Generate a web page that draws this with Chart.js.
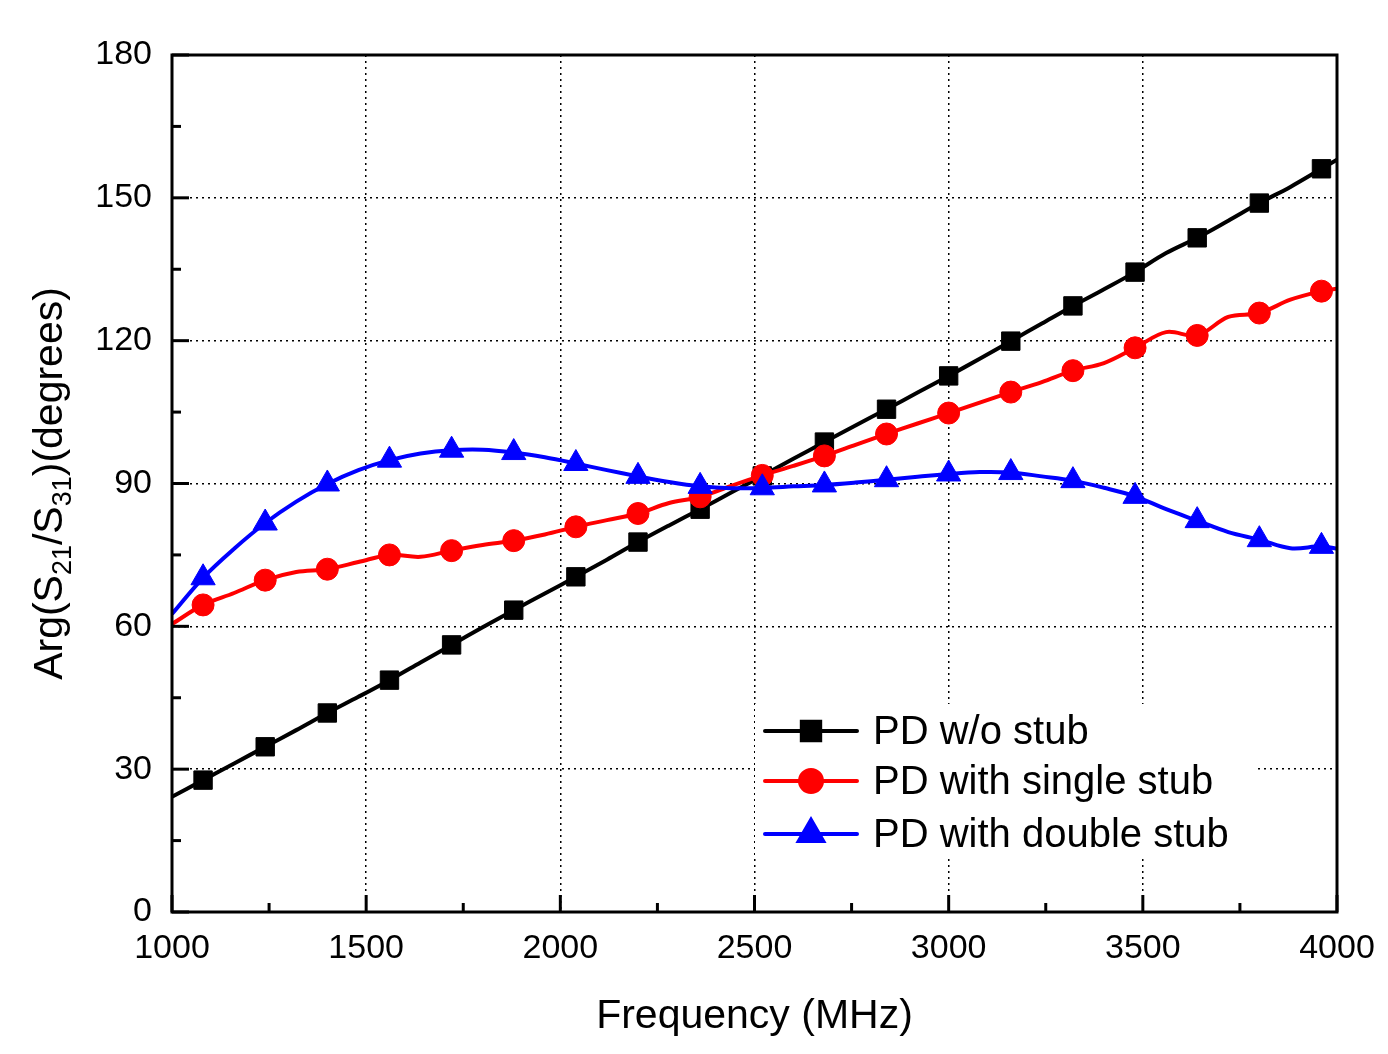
<!DOCTYPE html>
<html lang="en">
<head>
  <meta charset="UTF-8" />
  <title>Arg(S21/S31) vs Frequency</title>
  <script src="https://cdn.jsdelivr.net/npm/chart.js@4.4.1/dist/chart.umd.min.js"></script>
  <style>
    html, body { margin: 0; padding: 0; background: #fff; }
    #wrap { width: 1388px; height: 1054px; }
  </style>
</head>
<body>
  <div id="wrap"><canvas id="grafico" width="1388" height="1054"></canvas></div>

  <script>
    // frequency points (MHz), shared by the three curves
    const freq = [1000, 1080, 1160, 1240, 1320, 1400, 1480, 1560, 1640, 1720, 1800, 1880, 1960,
      2040, 2120, 2200, 2280, 2360, 2440, 2520, 2600, 2680, 2760, 2840, 2920, 3000, 3080, 3160,
      3240, 3320, 3400, 3480, 3560, 3640, 3720, 3800, 3880, 3960, 4000];

    // frequencies where a marker is shown
    const markerFreq = [1080, 1240, 1400, 1560, 1720, 1880, 2040, 2200, 2360, 2520, 2680, 2840,
      3000, 3160, 3320, 3480, 3640, 3800, 3960];

    const noStub = [24.2, 27.7, 31.2, 34.7, 38.2, 41.8, 45.2, 48.7, 52.4, 56.1, 59.8, 63.4, 66.9,
      70.4, 74.0, 77.7, 81.2, 84.6, 88.1, 91.6, 95.2, 98.7, 102.2, 105.6, 109.1, 112.6, 116.2, 119.9,
      123.6, 127.3, 130.8, 134.4, 138.4, 141.6, 145.2, 148.9, 152.3, 156.1, 158.0];

    const singleStub = [60.5, 64.5, 67.0, 69.7, 71.4, 72.0, 73.5, 75.0, 74.6, 75.9, 77.1, 78.0, 79.3,
      80.9, 82.3, 83.7, 85.9, 87.2, 89.5, 91.7, 93.7, 95.8, 98.1, 100.4, 102.6, 104.8, 107.0, 109.2,
      111.3, 113.7, 115.3, 118.5, 121.8, 121.1, 125.0, 125.8, 128.6, 130.4, 130.9];

    const doubleStub = [62.6, 70.2, 76.3, 81.7, 86.2, 89.9, 92.8, 94.9, 96.3, 97.0, 97.1, 96.5, 95.5,
      94.2, 92.8, 91.5, 90.3, 89.4, 89.0, 89.1, 89.4, 89.7, 90.2, 90.8, 91.4, 92.0, 92.4, 92.3,
      91.5, 90.6, 89.1, 87.3, 84.6, 82.2, 79.8, 78.2, 76.4, 76.8, 76.3];

    const seriesNames = ['PD w/o stub', 'PD with single stub', 'PD with double stub'];

    const xTicks = [1000, 1500, 2000, 2500, 3000, 3500, 4000];
    const yTicks = [0, 30, 60, 90, 120, 150, 180];

    const FONT = '"Liberation Sans", Arial, sans-serif';

    function pontos(valores) {
      return freq.map((f, i) => ({ x: f, y: valores[i] }));
    }

    function raio(r) {
      return ctx => (ctx.raw && markerFreq.includes(ctx.raw.x)) ? r : 0;
    }

    function serie(nome, valores, cor, estilo, r, ordem) {
      return {
        label: nome,
        data: pontos(valores),
        borderColor: cor,
        backgroundColor: cor,
        borderWidth: 4,
        tension: 0.35,
        pointStyle: estilo,
        pointRadius: raio(r),
        pointBorderWidth: 1,
        pointBorderColor: cor,
        pointBackgroundColor: cor,
        order: ordem,
        legendRadius: r
      };
    }

    // frame, inward ticks, legend and axis titles
    const moldura = {
      id: 'moldura',
      afterDraw(chart) {
        const { ctx, chartArea: a, scales: { x, y } } = chart;
        ctx.save();
        ctx.strokeStyle = '#000';
        ctx.lineCap = 'butt';

        // ticks
        ctx.lineWidth = 3;
        const linha = (x1, y1, x2, y2) => {
          ctx.beginPath(); ctx.moveTo(x1, y1); ctx.lineTo(x2, y2); ctx.stroke();
        };
        xTicks.forEach((v, i) => {
          const px = x.getPixelForValue(v);
          linha(px, a.bottom, px, a.bottom - 17);
          if (i < xTicks.length - 1) {
            const pm = x.getPixelForValue((v + xTicks[i + 1]) / 2);
            linha(pm, a.bottom, pm, a.bottom - 9);
          }
        });
        yTicks.forEach((v, i) => {
          const py = y.getPixelForValue(v);
          linha(a.left, py, a.left + 17, py);
          if (i < yTicks.length - 1) {
            const pm = y.getPixelForValue((v + yTicks[i + 1]) / 2);
            linha(a.left, pm, a.left + 9, pm);
          }
        });

        // frame
        ctx.lineWidth = 3;
        ctx.strokeRect(a.left, a.top, a.right - a.left, a.bottom - a.top);

        // legend
        ctx.fillStyle = '#fff';
        ctx.fillRect(755, 704, 503, 154);
        const linhasY = [731, 781, 834];
        chart.data.datasets.forEach((ds, i) => {
          const ly = linhasY[i];
          ctx.strokeStyle = ds.borderColor;
          ctx.lineWidth = 4;
          ctx.lineCap = 'round';
          linha(765, ly, 857, ly);
          ctx.fillStyle = ds.backgroundColor;
          Chart.helpers.drawPoint(ctx, {
            pointStyle: ds.pointStyle, radius: ds.legendRadius, rotation: 0, borderWidth: 1
          }, 811, ly);
          ctx.fillStyle = '#000';
          ctx.font = '40px ' + FONT;
          ctx.textAlign = 'left';
          ctx.textBaseline = 'alphabetic';
          ctx.fillText(ds.label, 873, ly + 13);
        });

        // x title
        ctx.fillStyle = '#000';
        ctx.font = '41px ' + FONT;
        ctx.textAlign = 'center';
        ctx.textBaseline = 'alphabetic';
        ctx.fillText('Frequency (MHz)', (a.left + a.right) / 2, 1028);

        // y title with subscripts
        const partes = [
          { t: 'Arg(S', s: false }, { t: '21', s: true }, { t: '/S', s: false },
          { t: '31', s: true }, { t: ')(degrees)', s: false }
        ];
        const fBig = '41px ' + FONT, fSub = '27px ' + FONT;
        let total = 0;
        partes.forEach(p => { ctx.font = p.s ? fSub : fBig; p.w = ctx.measureText(p.t).width; total += p.w; });
        ctx.translate(62, (a.top + a.bottom) / 2);
        ctx.rotate(-Math.PI / 2);
        ctx.textAlign = 'left';
        let cx = -total / 2;
        partes.forEach(p => {
          ctx.font = p.s ? fSub : fBig;
          ctx.fillText(p.t, cx, p.s ? 9 : 0);
          cx += p.w;
        });
        ctx.restore();
      }
    };

    const ctx = document.getElementById('grafico').getContext('2d');
    new Chart(ctx, {
      type: 'line',
      data: {
        datasets: [
          serie(seriesNames[0], noStub, '#000000', 'rect', 13, 3),
          serie(seriesNames[1], singleStub, '#ff0000', 'circle', 11, 2),
          serie(seriesNames[2], doubleStub, '#0000ff', 'triangle', 14, 1)
        ]
      },
      options: {
        responsive: false,
        animation: false,
        layout: { padding: { left: 0, right: 51, top: 55, bottom: 0 } },
        plugins: { legend: { display: false }, tooltip: { enabled: false } },
        scales: {
          x: {
            type: 'linear',
            min: 1000, max: 4000,
            afterBuildTicks: s => { s.ticks = xTicks.map(v => ({ value: v })); },
            afterFit: s => { s.height = 142; s.paddingLeft = 0; s.paddingRight = 0; },
            grid: { color: '#000', lineWidth: 1.5, drawTicks: false },
            border: { display: false, dash: [2, 4] },
            ticks: {
              color: '#000', padding: 16, maxRotation: 0,
              font: { size: 34, family: FONT },
              callback: v => String(v)
            }
          },
          y: {
            min: 0, max: 180,
            afterBuildTicks: s => { s.ticks = yTicks.map(v => ({ value: v })); },
            afterFit: s => { s.width = 172; s.paddingTop = 0; s.paddingBottom = 0; },
            grid: { color: '#000', lineWidth: 1.5, drawTicks: false },
            border: { display: false, dash: [2, 4] },
            ticks: {
              color: '#000', padding: 20,
              font: { size: 34, family: FONT },
              callback: v => String(v)
            }
          }
        }
      },
      plugins: [moldura]
    });
  </script>
</body>
</html>
